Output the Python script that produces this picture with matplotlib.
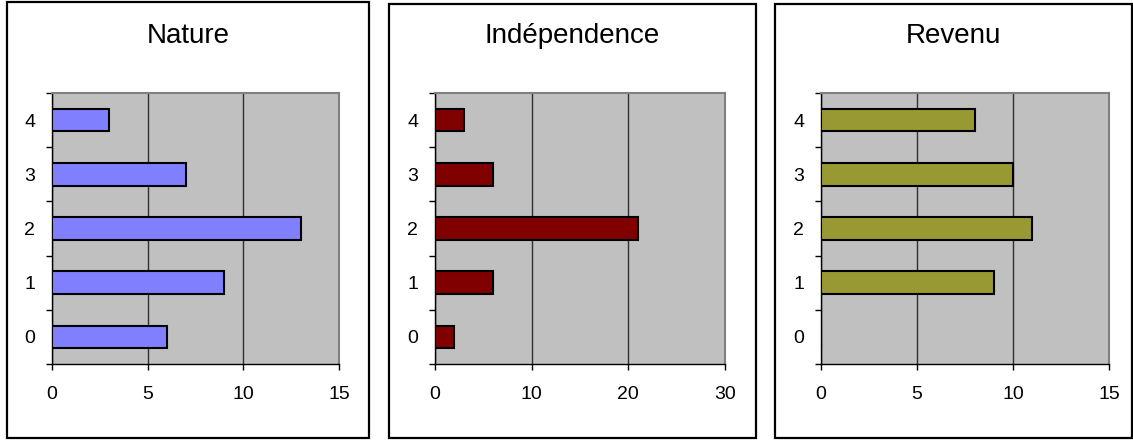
import numpy as np
import matplotlib
matplotlib.use("Agg")
from matplotlib import pyplot as plt
from matplotlib.patches import Rectangle

plt.rcParams["font.family"] = ["Liberation Sans", "DejaVu Sans"]

# data
categories = [0, 1, 2, 3, 4]
nature = [6, 9, 13, 7, 3]
independence = [2, 6, 21, 6, 3]
revenu = [0, 9, 11, 10, 8]

titles = ["Nature", "Indépendence", "Revenu"]
series = [nature, independence, revenu]
colors = ["#8080FF", "#800000", "#999933"]
xmax = [15, 30, 15]
xstep = [5, 10, 5]

W, H = 1133, 441
fig = plt.figure(figsize=(W / 100, H / 100), dpi=100)

# pixel boxes: plot area (left, right) and outer frame (left, right, top, bottom)
plot_lr = [(52, 339), (435, 725), (821, 1109)]
frames = [(7, 369, 2, 438), (389, 756, 4, 438), (775, 1132, 4, 438)]
top, bottom = 93, 364

for i in range(3):
    fl, fr, ft, fb = frames[i]
    fig.patches.append(Rectangle((fl / W, 1 - fb / H), (fr - fl) / W, (fb - ft) / H,
                                 transform=fig.transFigure, fill=False,
                                 edgecolor="black", linewidth=1.6, zorder=0))
    fig.text((fl + fr) / 2 / W, 1 - 36 / H, titles[i], ha="center", va="center",
             fontsize=20)

    l, r = plot_lr[i]
    ax = fig.add_axes([l / W, 1 - bottom / H, (r - l) / W, (bottom - top) / H])
    ax.set_facecolor("#C0C0C0")
    ax.barh(categories, series[i], height=0.42, color=colors[i],
            edgecolor="black", linewidth=1.5, zorder=3)
    ax.set_xlim(0, xmax[i])
    ax.set_ylim(-0.5, 4.5)
    ax.set_xticks(np.arange(0, xmax[i] + 1, xstep[i]))
    ax.set_yticks(np.arange(-0.5, 5, 1))
    ax.set_yticklabels([])
    ax.set_yticks(categories, minor=True)
    ax.set_yticklabels([str(c) for c in categories], minor=True)
    ax.tick_params(which="major", direction="out", length=4, width=1, color="black")
    ax.tick_params(axis="x", labelsize=14, pad=12)
    ax.tick_params(axis="y", which="minor", length=0, labelsize=14, pad=12)
    ax.grid(axis="x", color="#303030", linewidth=1, zorder=1)
    ax.set_axisbelow(True)
    for s in ["top", "right"]:
        ax.spines[s].set_color("#808080")
        ax.spines[s].set_linewidth(1.5)
    for s in ["left", "bottom"]:
        ax.spines[s].set_color("black")
        ax.spines[s].set_linewidth(1)

fig.savefig("out.png", dpi=100)
